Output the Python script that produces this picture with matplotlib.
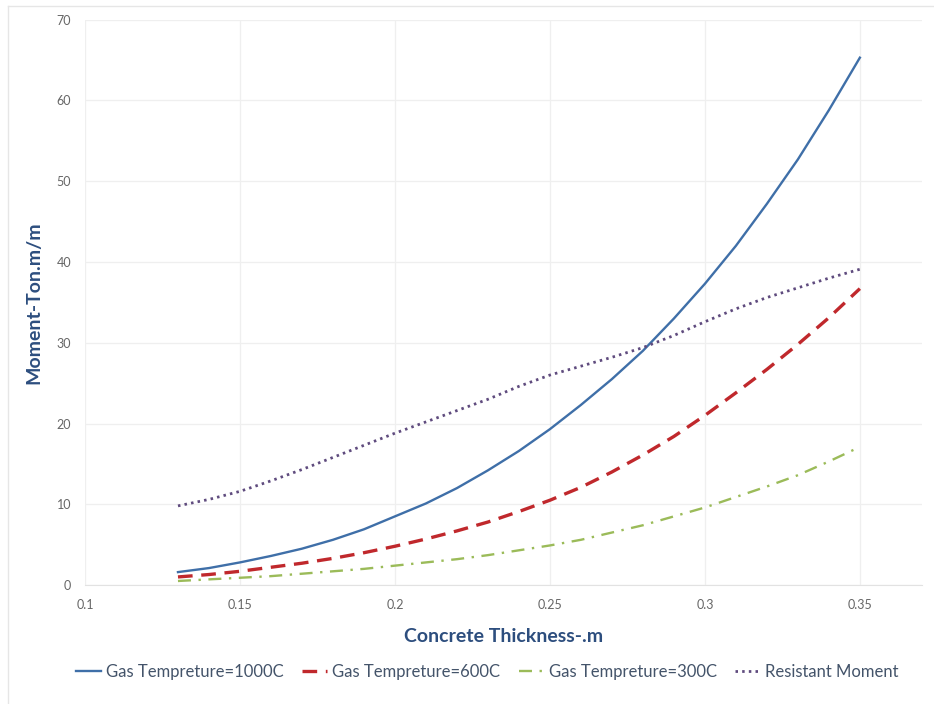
import matplotlib
matplotlib.use("Agg")
import matplotlib.pyplot as plt
from matplotlib.lines import Line2D

plt.rcParams['font.family'] = ['Lato', 'DejaVu Sans']

# concrete thickness (m)
thickness = [0.13, 0.14, 0.15, 0.16, 0.17, 0.18, 0.19, 0.20, 0.21, 0.22, 0.23, 0.24,
             0.25, 0.26, 0.27, 0.28, 0.29, 0.30, 0.31, 0.32, 0.33, 0.34, 0.35]

# moments (Ton.m/m)
gas_1000 = [1.6, 2.1, 2.8, 3.6, 4.5, 5.6, 6.9, 8.5, 10.1, 12.0, 14.2, 16.6,
            19.3, 22.3, 25.5, 29.0, 33.0, 37.3, 42.0, 47.2, 52.7, 58.8, 65.3]
gas_600 = [1.0, 1.3, 1.7, 2.2, 2.7, 3.3, 4.0, 4.8, 5.7, 6.7, 7.8, 9.1,
           10.5, 12.1, 14.0, 16.1, 18.4, 21.0, 23.8, 26.7, 29.8, 33.1, 36.7]
gas_300 = [0.5, 0.7, 0.9, 1.1, 1.4, 1.7, 2.0, 2.4, 2.8, 3.2, 3.7, 4.3,
           4.9, 5.6, 6.5, 7.4, 8.5, 9.6, 10.9, 12.2, 13.6, 15.3, 17.1]
resistant = [9.8, 10.6, 11.6, 12.9, 14.3, 15.8, 17.3, 18.8, 20.2, 21.6, 23.0, 24.6,
             26.0, 27.1, 28.2, 29.4, 30.9, 32.6, 34.2, 35.6, 36.8, 38.0, 39.1]

labels = ["Gas Tempreture=1000C", "Gas Tempreture=600C",
          "Gas Tempreture=300C", "Resistant Moment"]

xticks = [0.1, 0.15, 0.2, 0.25, 0.3, 0.35]
xtick_labels = ["0.1", "0.15", "0.2", "0.25", "0.3", "0.35"]
yticks = [0, 10, 20, 30, 40, 50, 60, 70]

fig = plt.figure(figsize=(9.34, 7.04), dpi=100)
ax = fig.add_axes([0.091, 0.169, 0.896, 0.803])

blue = "#3F6FA8"
red = "#C0282C"
green = "#9BBB59"
purple = "#5F4B7E"

ax.plot(thickness, gas_1000, color=blue, lw=1.7, label=labels[0])
ax.plot(thickness, gas_600, color=red, lw=2.4, dashes=(4.4, 2.6), label=labels[1])
ax.plot(thickness, gas_300, color=green, lw=1.7, dashes=(5.5, 3.2, 1, 3.2), label=labels[2])
ax.plot(thickness, resistant, color=purple, lw=2.0, dashes=(0.9, 1.5), label=labels[3])

ax.set_xlim(0.1, 0.37)
ax.set_ylim(0, 70)
ax.set_xticks(xticks)
ax.set_xticklabels(xtick_labels)
ax.set_yticks(yticks)
ax.tick_params(length=0, labelsize=9, labelcolor="#666666", pad=10)
ax.grid(True, color="#EFEFEF", lw=0.9)
ax.set_axisbelow(True)
for side in ["left", "right", "top"]:
    ax.spines[side].set_visible(False)
ax.spines["bottom"].set_color("#E2E2E2")

ax.set_xlabel("Concrete Thickness-.m", fontsize=14, fontweight="bold",
              color="#2D4E7E", labelpad=12)
ax.set_ylabel("Moment-Ton.m/m", fontsize=14, fontweight="bold",
              color="#2D4E7E", labelpad=10)

handles = [
    Line2D([], [], color=blue, lw=1.7),
    Line2D([], [], color=red, lw=2.4, dashes=(4.4, 2.6)),
    Line2D([], [], color=green, lw=1.7, dashes=(5.5, 3.2, 1, 3.2)),
    Line2D([], [], color=purple, lw=2.0, dashes=(0.9, 1.5)),
]
fig.legend(handles, labels, loc="center", bbox_to_anchor=(0.522, 0.045), ncol=4,
           frameon=False, fontsize=12, labelcolor="#44546A", handlelength=1.5,
           handletextpad=0.3, columnspacing=1.1)

# faint frame around the chart area
fig.add_artist(Line2D([0.009, 0.009], [0.0, 0.992], color="#E6E6E6", lw=1.0))
fig.add_artist(Line2D([0.009, 1.0], [0.992, 0.992], color="#E6E6E6", lw=1.0))

fig.savefig("out.png", dpi=100)
